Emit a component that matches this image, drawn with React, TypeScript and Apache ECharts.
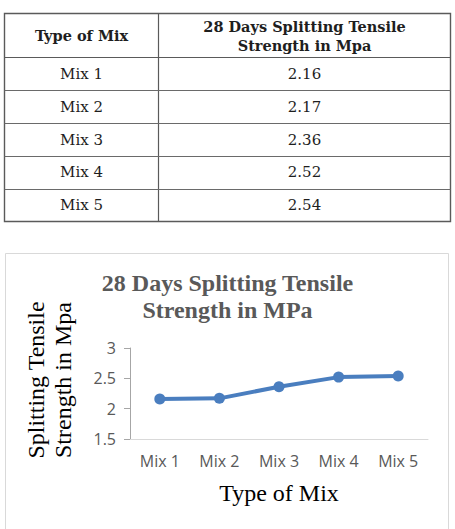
import React, { useEffect, useRef } from "react";
import * as echarts from "echarts";

const mixes = ["Mix 1", "Mix 2", "Mix 3", "Mix 4", "Mix 5"];
const strengths = [2.16, 2.17, 2.36, 2.52, 2.54];
const tableHeaders = ["Type of Mix", "28 Days Splitting Tensile\nStrength in Mpa"];
const chartTitle = "28 Days Splitting Tensile\nStrength in MPa";
const yAxisName = "Splitting Tensile\nStrength in Mpa";
const xAxisName = "Type of Mix";

export default function App() {
  const ref = useRef<HTMLDivElement>(null);
  useEffect(() => {
    if (!ref.current) return;
    const chart = echarts.init(ref.current, null, { renderer: "svg" });
    const W = 455;
    const tLeft = 4.5, tRight = 450.5, tTop = 13.5, tBottom = 221.5, colX = 158.5, headBottom = 57.5;
    const rowH = (tBottom - headBottom) / mixes.length;
    const serif = "'DejaVu Serif', serif";
    const tableTextColor = "#1e1e1e";
    const graphics: any[] = [];
    graphics.push({
      type: "rect",
      shape: { x: tLeft, y: tTop, width: tRight - tLeft, height: tBottom - tTop },
      style: { fill: "#fff", stroke: "#5a5a5a", lineWidth: 1.4 },
      silent: true,
    });
    graphics.push({
      type: "line",
      shape: { x1: colX, y1: tTop, x2: colX, y2: tBottom },
      style: { stroke: "#5a5a5a", lineWidth: 1.2 },
    });
    graphics.push({
      type: "line",
      shape: { x1: tLeft, y1: headBottom, x2: tRight, y2: headBottom },
      style: { stroke: "#5a5a5a", lineWidth: 1.2 },
    });
    for (let i = 1; i < mixes.length; i++) {
      const y = Math.round(headBottom + rowH * i) + 0.5;
      graphics.push({
        type: "line",
        shape: { x1: tLeft, y1: y, x2: tRight, y2: y },
        style: { stroke: "#6a6a6a", lineWidth: 1 },
      });
    }
    graphics.push({
      type: "text",
      x: (tLeft + colX) / 2,
      y: (tTop + headBottom) / 2,
      style: {
        text: tableHeaders[0],
        font: `bold 14.5px ${serif}`,
        fill: tableTextColor,
        align: "center",
        verticalAlign: "middle",
      },
    });
    graphics.push({
      type: "text",
      x: (colX + tRight) / 2,
      y: (tTop + headBottom) / 2,
      style: {
        text: tableHeaders[1],
        font: `bold 14.5px ${serif}`,
        fill: tableTextColor,
        align: "center",
        verticalAlign: "middle",
        lineHeight: 19,
      },
    });
    mixes.forEach((m, i) => {
      const cy = headBottom + rowH * (i + 0.5);
      graphics.push({
        type: "text",
        x: (tLeft + colX) / 2,
        y: cy,
        style: { text: m, font: `15px ${serif}`, fill: tableTextColor, align: "center", verticalAlign: "middle" },
      });
      graphics.push({
        type: "text",
        x: (colX + tRight) / 2,
        y: cy,
        style: {
          text: strengths[i].toFixed(2),
          font: `15px ${serif}`,
          fill: tableTextColor,
          align: "center",
          verticalAlign: "middle",
        },
      });
    });
    graphics.push({
      type: "rect",
      z: -10,
      shape: { x: 5.5, y: 253.5, width: 443, height: 300 },
      style: { fill: "#fff", stroke: "#d9d9d9", lineWidth: 1 },
      silent: true,
    });
    graphics.push({
      type: "text",
      x: 49,
      y: 380,
      rotation: Math.PI / 2,
      style: {
        text: yAxisName,
        font: "24px 'Liberation Serif', serif",
        fill: "#000",
        align: "center",
        verticalAlign: "middle",
        lineHeight: 27,
      },
    });

    chart.setOption({
      animation: false,
      backgroundColor: "#fff",
      title: {
        text: chartTitle,
        left: "center",
        top: 264,
        textStyle: {
          fontFamily: "'Liberation Serif', serif",
          fontWeight: "bold",
          fontSize: 24,
          color: "#595959",
          lineHeight: 27,
        },
      },
      grid: { left: 130, right: W - 428, top: 348, bottom: 529 - 439, containLabel: false },
      xAxis: {
        type: "category",
        data: mixes,
        boundaryGap: true,
        axisLine: { lineStyle: { color: "#d9d9d9", width: 1 } },
        axisTick: { show: false },
        axisLabel: {
          color: "#595959",
          fontFamily: "'Open Sans', sans-serif",
          fontSize: 16,
          margin: 14,
        },
        name: xAxisName,
        nameLocation: "middle",
        nameGap: 54,
        nameTextStyle: {
          fontFamily: "'Liberation Serif', serif",
          fontSize: 24,
          color: "#000",
          verticalAlign: "middle",
        },
      },
      yAxis: {
        type: "value",
        min: 1.5,
        max: 3,
        interval: 0.5,
        splitLine: { show: false },
        axisLine: { show: true, lineStyle: { color: "#a6a6a6", width: 1 } },
        axisTick: { show: true, length: 6, lineStyle: { color: "#a6a6a6" } },
        axisLabel: {
          color: "#595959",
          fontFamily: "'Open Sans', sans-serif",
          fontSize: 16,
          margin: 14,
        },
      },
      series: [
        {
          type: "line",
          data: strengths,
          symbol: "circle",
          symbolSize: 11,
          lineStyle: { color: "#4a7ebf", width: 4 },
          itemStyle: { color: "#4a7ebf" },
        },
      ],
      graphic: graphics,
    });
    return () => chart.dispose();
  }, []);
  return (
    <div
      ref={ref}
      style={{ position: "fixed", left: 0, top: 0, width: 455, height: 529, background: "#fff" }}
    />
  );
}
